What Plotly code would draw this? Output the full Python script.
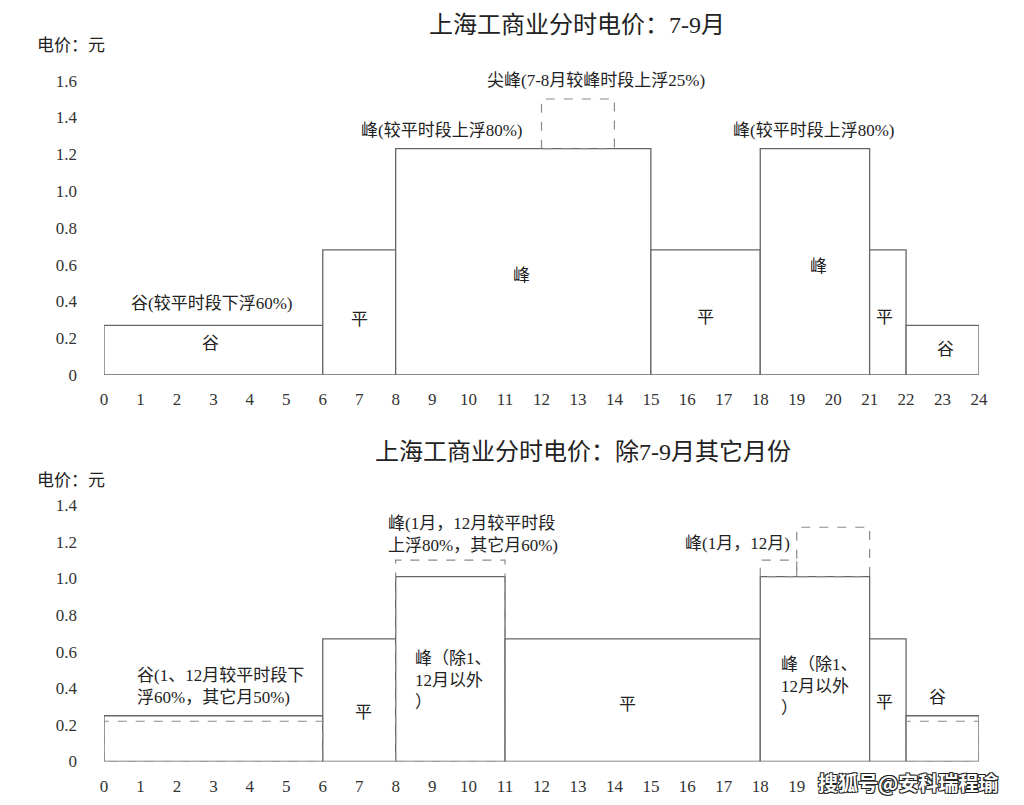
import plotly.graph_objects as go

# 7-9月 时段 (小时) 与电价 (元)
summer_start = [0, 6, 8, 15, 18, 21, 22]
summer_end = [6, 8, 15, 18, 21, 22, 24]
summer_price = [0.27, 0.68, 1.23, 0.68, 1.23, 0.68, 0.27]
summer_sharp_start = [12]
summer_sharp_end = [14]
summer_sharp_low = [1.23]
summer_sharp_high = [1.50]

# 除7-9月其它月份
other_start = [0, 6, 8, 11, 18, 21, 22]
other_end = [6, 8, 11, 18, 21, 22, 24]
other_price = [0.25, 0.67, 1.01, 0.67, 1.01, 0.67, 0.25]
# 1月、12月 (虚线)
jan_dec_start = [0, 8, 18, 19, 22]
jan_dec_end = [6, 11, 19, 21, 24]
jan_dec_low = [0, 0, 1.01, 1.01, 0]
jan_dec_high = [0.22, 1.10, 1.10, 1.28, 0.22]

hours = list(range(25))
ytext_top = ["0", "0.2", "0.4", "0.6", "0.8", "1.0", "1.2", "1.4", "1.6"]
ytext_bottom = ["0", "0.2", "0.4", "0.6", "0.8", "1.0", "1.2", "1.4"]

# 标注文字
top_labels = ["谷(较平时段下浮60%)", "谷", "平", "峰(较平时段上浮80%)",
              "尖峰(7-8月较峰时段上浮25%)", "峰", "平", "峰(较平时段上浮80%)",
              "峰", "平", "谷"]
top_label_x = [2.96, 2.93, 7.0, 9.27, 13.5, 11.44, 16.5, 19.45, 19.6, 21.42, 23.07]
top_label_y = [0.39, 0.17, 0.30, 1.33, 1.60, 0.54, 0.31, 1.33, 0.59, 0.31, 0.14]

bottom_labels = ["谷(1、12月较平时段下<br>浮60%，其它月50%)", "平",
                 "峰(1月，12月较平时段<br>上浮80%，其它月60%)",
                 "峰（除1、<br>12月以外<br>）", "平", "峰(1月，12月)",
                 "尖峰(1月，12月较峰时<br>段上浮25%)",
                 "峰（除1、<br>12月以外<br>）", "平", "谷"]
bottom_label_x = [0.85, 7.13, 7.73, 8.48, 14.35, 18.87, 18.24, 18.51, 21.42, 22.85]
bottom_label_y = [0.41, 0.27, 1.24, 0.445, 0.31, 1.19, 1.41, 0.41, 0.32, 0.35]
bottom_label_anchor = ["left", "center", "left", "left", "center", "right",
                       "left", "left", "center", "center"]

FONT = "Liberation Serif, Noto Sans CJK SC"
LINE = "#666666"
DASH = "#8a8a8a"
W, H, PAD = 1024, 805, 8  # 页面 body 有 8px 外边距


def px_x(v):
    return (v - PAD) / W


def px_y(v):
    return 1 - (v - PAD) / H


def bars(starts, ends, values, xa, ya):
    mids = [(s + e) / 2 for s, e in zip(starts, ends)]
    widths = [e - s for s, e in zip(starts, ends)]
    return go.Bar(x=mids, y=values, width=widths, base=0, xaxis=xa, yaxis=ya,
                  marker=dict(color="white", line=dict(color=LINE, width=1.3)),
                  hoverinfo="skip", showlegend=False)


def dashed_boxes(starts, ends, lows, highs, xa, ya):
    xs, ys = [], []
    for s, e, lo, hi in zip(starts, ends, lows, highs):
        xs += [s, s, e, e, s, None]
        ys += [lo, hi, hi, lo, lo, None]
    return go.Scatter(x=xs, y=ys, mode="lines", xaxis=xa, yaxis=ya,
                      line=dict(color=DASH, width=1.2, dash="dash"),
                      hoverinfo="skip", showlegend=False)


fig = go.Figure()
fig.add_trace(bars(summer_start, summer_end, summer_price, "x", "y"))
fig.add_trace(dashed_boxes(summer_sharp_start, summer_sharp_end,
                           summer_sharp_low, summer_sharp_high, "x", "y"))
fig.add_trace(bars(other_start, other_end, other_price, "x2", "y2"))
fig.add_trace(dashed_boxes(jan_dec_start, jan_dec_end,
                           jan_dec_low, jan_dec_high, "x2", "y2"))

axis_x = dict(range=[0, 24], tickvals=hours, showgrid=False, zeroline=False,
              showline=False, ticks="", ticklabelstandoff=12, automargin=False,
              tickfont=dict(family=FONT, size=17, color="#333"),
              domain=[px_x(104), px_x(979)])
axis_y = dict(showgrid=False, zeroline=False, showline=False, ticks="",
              ticklabelstandoff=26, automargin=False,
              tickfont=dict(family=FONT, size=17, color="#333"))

fig.update_layout(
    width=W, height=H, margin=dict(l=0, r=0, t=0, b=0, autoexpand=False),
    plot_bgcolor="white", paper_bgcolor="white", barmode="overlay",
    font=dict(family=FONT, size=17, color="#222"),
    xaxis=dict(axis_x, anchor="y"),
    yaxis=dict(axis_y, range=[0, 1.6], domain=[px_y(375), px_y(80.6)],
               tickvals=[float(t) for t in ytext_top], ticktext=ytext_top, anchor="x"),
    xaxis2=dict(axis_x, anchor="y2"),
    yaxis2=dict(axis_y, range=[0, 1.4], domain=[px_y(761.5), px_y(505.3)],
                tickvals=[float(t) for t in ytext_bottom], ticktext=ytext_bottom, anchor="x2"),
)

annotations = [
    dict(text="上海工商业分时电价：7-9月", x=px_x(577), y=px_y(25), font=dict(size=24)),
    dict(text="上海工商业分时电价：除7-9月其它月份", x=px_x(583), y=px_y(452),
         font=dict(size=24)),
    dict(text="电价：元", x=px_x(35), y=px_y(45), xanchor="left"),
    dict(text="电价：元", x=px_x(35), y=px_y(480), xanchor="left"),
]
for a in annotations:
    a.update(xref="paper", yref="paper", showarrow=False, yanchor="middle")
    a.setdefault("xanchor", "center")

for t, x, y in zip(top_labels, top_label_x, top_label_y):
    annotations.append(dict(text=t, x=x, y=y, xref="x", yref="y", showarrow=False,
                            yanchor="middle"))

for t, x, y, anc in zip(bottom_labels, bottom_label_x, bottom_label_y, bottom_label_anchor):
    annotations.append(dict(text=t, x=x, y=y, xref="x2", yref="y2", showarrow=False,
                            xanchor=anc, yanchor="middle", align="left"))

# 水印
annotations.append(dict(
    text="<b>搜狐号@安科瑞程瑜</b>", x=px_x(1000), y=px_y(782),
    xref="paper", yref="paper", xanchor="right", yanchor="middle",
    showarrow=False, bgcolor="white",
    font=dict(family="Noto Sans CJK SC", size=20, color="white",
              shadow="-1px -1px 0 #222, 1px -1px 0 #222, -1px 1px 0 #222, 1px 1px 0 #222")))

fig.update_layout(annotations=annotations)
fig.write_html("out.html")
